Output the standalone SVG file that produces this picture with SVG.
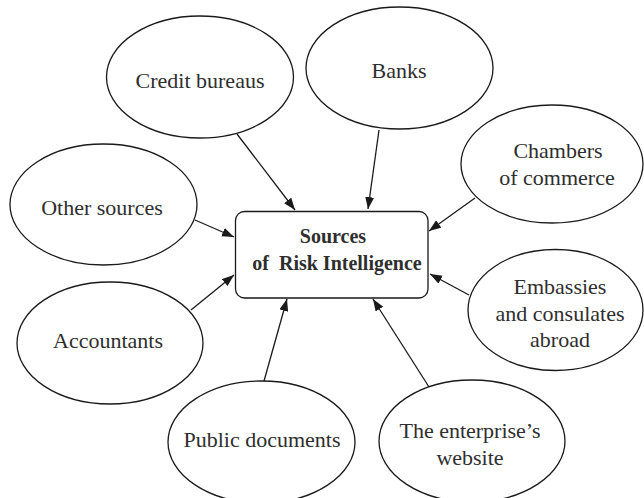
<svg xmlns="http://www.w3.org/2000/svg" width="644" height="498" viewBox="0 0 644 498">
<style>
.node ellipse{fill:#fff;stroke:#1a1a1a;stroke-width:1.3}
.box{fill:#fff;stroke:#1a1a1a;stroke-width:1.3}
.lbl{font-family:"Liberation Serif","Times New Roman",serif;font-size:22px;fill:#2e2e2e;text-anchor:middle}
.title{font-family:"Liberation Serif","Times New Roman",serif;font-size:20px;font-weight:bold;fill:#2e2e2e;text-anchor:middle;white-space:pre}
.conn line{stroke:#1a1a1a;stroke-width:1.3;marker-end:url(#arr)}
</style>
<defs>
<marker id="arr" markerUnits="userSpaceOnUse" markerWidth="13" markerHeight="10" refX="12" refY="4.5" orient="auto">
<path d="M0,0 L12,4.5 L0,9 z" fill="#1a1a1a"/>
</marker>
</defs>
<rect width="644" height="498" fill="#fff"/>
<g id="connectors" class="conn">
<line x1="237" y1="134" x2="295" y2="210"/>
<line x1="379" y1="130" x2="368" y2="209"/>
<line x1="475" y1="198" x2="429" y2="231"/>
<line x1="195" y1="220" x2="234" y2="237"/>
<line x1="469" y1="295" x2="430" y2="274"/>
<line x1="191" y1="310" x2="234" y2="275"/>
<line x1="264" y1="381" x2="287" y2="299"/>
<line x1="429" y1="387" x2="373" y2="299"/>
</g>
<g id="credit-bureaus" class="node">
<ellipse cx="200" cy="77" rx="93.5" ry="61"/>
<text class="lbl" x="200" y="88">Credit bureaus</text>
</g>
<g id="banks" class="node">
<ellipse cx="399.5" cy="68" rx="93.5" ry="61"/>
<text class="lbl" x="399" y="78">Banks</text>
</g>
<g id="chambers" class="node">
<ellipse cx="552" cy="164" rx="91" ry="59"/>
<text class="lbl" x="558" y="158">Chambers</text>
<text class="lbl" x="557" y="185">of commerce</text>
</g>
<g id="other-sources" class="node">
<ellipse cx="103.5" cy="204.5" rx="93.5" ry="60.5"/>
<text class="lbl" x="102" y="215">Other sources</text>
</g>
<g id="embassies" class="node">
<ellipse cx="555.5" cy="310" rx="87.5" ry="60.5"/>
<text class="lbl" x="560" y="294">Embassies</text>
<text class="lbl" x="560" y="321">and consulates</text>
<text class="lbl" x="560" y="347">abroad</text>
</g>
<g id="accountants" class="node">
<ellipse cx="110" cy="343" rx="93" ry="61"/>
<text class="lbl" x="108" y="348">Accountants</text>
</g>
<g id="public-documents" class="node">
<ellipse cx="261.5" cy="442" rx="93.5" ry="61"/>
<text class="lbl" x="262" y="447">Public documents</text>
</g>
<g id="enterprise-website" class="node">
<ellipse cx="472" cy="441" rx="93" ry="61"/>
<text class="lbl" x="470" y="438">The enterprise’s</text>
<text class="lbl" x="470" y="465">website</text>
</g>
<g id="center" class="node">
<rect class="box" x="235.5" y="211.5" width="192.5" height="86.5" rx="9"/>
<text class="title" x="333" y="243">Sources</text>
<text class="title" x="337" y="270" xml:space="preserve">of  Risk Intelligence</text>
</g>
</svg>
